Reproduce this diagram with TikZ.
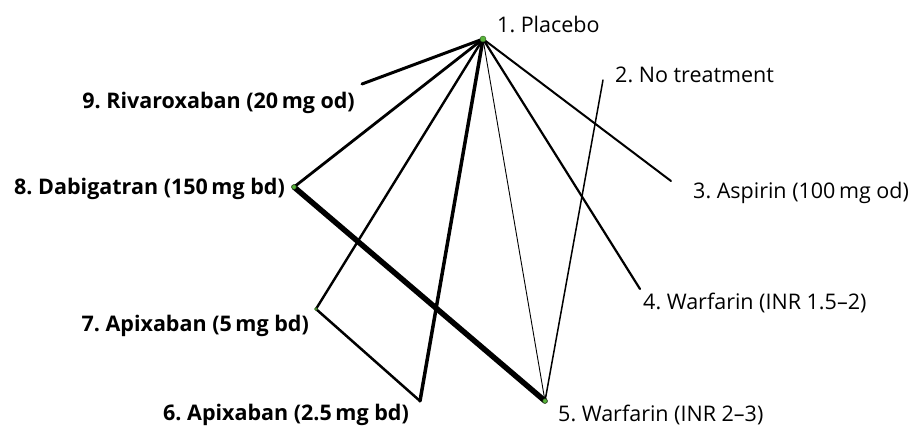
\documentclass[tikz,border=0pt]{standalone}
\usepackage{fontspec}
\setmainfont{Open Sans}
\frenchspacing
\definecolor{nodegreen}{RGB}{90,180,60}
\begin{document}
\begin{tikzpicture}[x=1pt,y=-1pt,
  lbl/.style={inner sep=0pt,font=\fontsize{21.5}{24}\selectfont},
  blbl/.style={inner sep=0pt,font=\fontsize{21.5}{24}\selectfont\bfseries},
  edge/.style={draw=black,line cap=round},
  dot/.style={circle,fill=nodegreen,draw=black!50!nodegreen,line width=0.4pt,inner sep=0pt,minimum size=6pt},
  pt/.style={inner sep=0pt,minimum size=0pt}]
\useasboundingbox (0,0) rectangle (908,426);
\node[pt] (n1) at (483,39) {};
\node[pt] (n2) at (603,80) {};
\node[pt] (n3) at (671,181) {};
\node[pt] (n4) at (640,289) {};
\node[pt] (n5) at (545,401) {};
\node[pt] (n6) at (420,401) {};
\node[pt] (n7) at (316,309) {};
\node[pt] (n8) at (294,187) {};
\node[pt] (n9) at (362,84) {};
\draw[edge,line width=3pt] (n1.center) -- (n9.center);
\draw[edge,line width=2.8pt] (n1.center) -- (n8.center);
\draw[edge,line width=2.4pt] (n1.center) -- (n7.center);
\draw[edge,line width=3.5pt] (n1.center) -- (n6.center);
\draw[edge,line width=0.9pt] (n1.center) -- (n5.center);
\draw[edge,line width=2.2pt] (n1.center) -- (n4.center);
\draw[edge,line width=2pt] (n1.center) -- (n3.center);
\draw[edge,line width=5.5pt] (n8.center) -- (n5.center);
\draw[edge,line width=2.5pt] (n7.center) -- (n6.center);
\draw[edge,line width=1.5pt] (n2.center) -- (n5.center);
\node[dot] (d1) at (n1) {};
\node[dot,minimum size=4.5pt] (d5) at (n5) {};
\node[dot,minimum size=3pt] (d7) at (n7) {};
\node[dot,minimum size=4.5pt] (d8) at (n8) {};
\node[lbl,anchor=base west] (l1) at (497,32) {1. Placebo};
\node[lbl,anchor=base west] (l2) at (615,82) {2. No treatment};
\node[lbl,anchor=base west] (l3) at (693,198) {3. Aspirin (100\,mg od)};
\node[lbl,anchor=base west] (l4) at (643,309) {4. Warfarin (INR 1.5–2)};
\node[lbl,anchor=base west] (l5) at (558,421) {5. Warfarin (INR 2–3)};
\node[blbl,anchor=base east] (l6) at (409,420) {6. Apixaban (2.5\,mg bd)};
\node[blbl,anchor=base east] (l7) at (309,331) {7. Apixaban (5\,mg bd)};
\node[blbl,anchor=base east] (l8) at (285,194) {8. Dabigatran (150\,mg bd)};
\node[blbl,anchor=base east] (l9) at (355,108) {9. Rivaroxaban (20\,mg od)};
\end{tikzpicture}
\end{document}
